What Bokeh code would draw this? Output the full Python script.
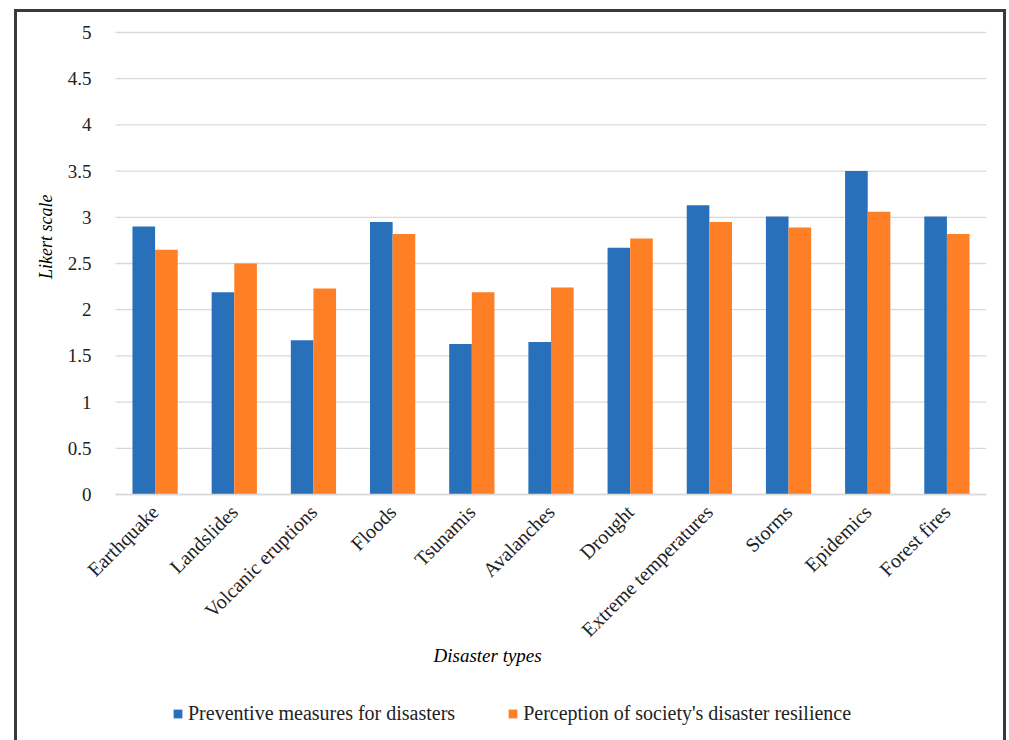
from bokeh.plotting import figure
from bokeh.models import Range1d, FixedTicker, Legend, LegendItem, Title, Label, ColumnDataSource
from bokeh.embed import file_html
from bokeh.resources import INLINE
import numpy as np
import math

categories = ["Earthquake", "Landslides", "Volcanic eruptions", "Floods", "Tsunamis",
              "Avalanches", "Drought", "Extreme temperatures", "Storms", "Epidemics", "Forest fires"]
preventive = [2.90, 2.19, 1.67, 2.95, 1.63, 1.65, 2.67, 3.13, 3.01, 3.50, 3.01]
perception = [2.65, 2.50, 2.23, 2.82, 2.19, 2.24, 2.77, 2.95, 2.89, 3.06, 2.82]
series_names = ["Preventive measures for disasters", "Perception of society's disaster resilience"]
y_ticks = [0, 0.5, 1, 1.5, 2, 2.5, 3, 3.5, 4, 4.5, 5]
y_tick_labels = ["0", "0.5", "1", "1.5", "2", "2.5", "3", "3.5", "4", "4.5", "5"]
x_title = "Disaster types"
y_title = "Likert scale"

BLUE = "#2870BA"
ORANGE = "#FF7F27"
GRID = "#D9D9D9"
FONT = "Liberation Serif"

# layout geometry (pixels)
FIG_W, FIG_H = 992, 731
TOP, LEFT, RIGHT = 3, 43, 23
ABOVE = 17                        # pixels between frame top and the value 5
PLOT_H = 462                      # pixel height of the 0..5 value span
PAD_L = 55                        # pixels between frame left and the category axis start
n = len(categories)
frame_w = FIG_W - LEFT - RIGHT
frame_h = FIG_H - TOP
x_min = -n * PAD_L / (frame_w - PAD_L)
y_max = 5 + 5 * ABOVE / PLOT_H
y_min = -5 * (frame_h - PLOT_H - ABOVE) / PLOT_H

centers = np.arange(n) + 0.5
bw = 1 / 3.5
src = ColumnDataSource(dict(xa=centers - bw / 2, xb=centers + bw / 2, a=preventive, b=perception))
grid_src = ColumnDataSource(dict(x0=[0] * len(y_ticks), x1=[n] * len(y_ticks), y=y_ticks))

p = figure(width=FIG_W, height=FIG_H, x_range=Range1d(x_min, n), y_range=Range1d(y_min, y_max),
           output_backend="svg", toolbar_location=None,
           min_border_left=LEFT, min_border_right=RIGHT, min_border_top=TOP, min_border_bottom=0)
p.margin = (9, 0, 0, 14)
p.styles = {"border": "3px solid #3a3a3a", "border-bottom": "none"}
p.outline_line_color = None
p.background_fill_color = "white"
p.border_fill_color = "white"
p.xgrid.grid_line_color = None
p.ygrid.grid_line_color = None

p.segment(x0="x0", x1="x1", y0="y", y1="y", source=grid_src, line_color=GRID, line_width=1.3)

r1 = p.vbar(x="xa", top="a", bottom=0, width=bw, source=src, fill_color=BLUE, line_color=None)
r2 = p.vbar(x="xb", top="b", bottom=0, width=bw, source=src, fill_color=ORANGE, line_color=None)

ya = p.yaxis[0]
ya.fixed_location = 0
ya.bounds = (0, 5)
ya.ticker = FixedTicker(ticks=y_ticks)
ya.major_label_overrides = {t: l for t, l in zip(y_ticks, y_tick_labels)}
ya.axis_line_color = None
ya.major_tick_line_color = None
ya.minor_tick_line_color = None
ya.major_label_standoff = 18
ya.major_label_text_font = FONT
ya.major_label_text_font_size = "19px"
ya.major_label_text_color = "#222222"

xa = p.xaxis[0]
xa.fixed_location = 0
xa.bounds = (0, n)
xa.ticker = FixedTicker(ticks=list(centers))
xa.major_label_overrides = {float(c): name for c, name in zip(centers, categories)}
xa.axis_line_color = GRID
xa.axis_line_width = 1.5
xa.major_tick_line_color = None
xa.minor_tick_line_color = None
xa.major_label_orientation = math.pi / 4
xa.major_label_standoff = 8
xa.major_label_text_font = FONT
xa.major_label_text_font_size = "20px"
xa.major_label_text_color = "#222222"

ty = Title(text=y_title, align="right", offset=179, text_font=FONT, text_font_style="italic",
           text_font_size="18px", text_color="#000000", standoff=9)
p.add_layout(ty, "left")

tx = Label(text=x_title, x=PAD_L + 318, y=88, x_units="screen", y_units="screen",
           text_baseline="middle", text_align="left", text_font=FONT, text_font_style="italic",
           text_font_size="19px", text_color="#000000")
p.add_layout(tx)

legend = Legend(items=[LegendItem(label=series_names[0], renderers=[r1]),
                       LegendItem(label=series_names[1], renderers=[r2])],
                orientation="horizontal", location=(PAD_L + 57, 18), border_line_color=None,
                background_fill_alpha=0, glyph_width=11, glyph_height=11, label_standoff=5,
                spacing=52, padding=0, margin=0,
                label_text_font=FONT, label_text_font_size="20px", label_text_color="#222222")
p.add_layout(legend, "center")

open("out.html", "w").write(file_html(p, INLINE))
